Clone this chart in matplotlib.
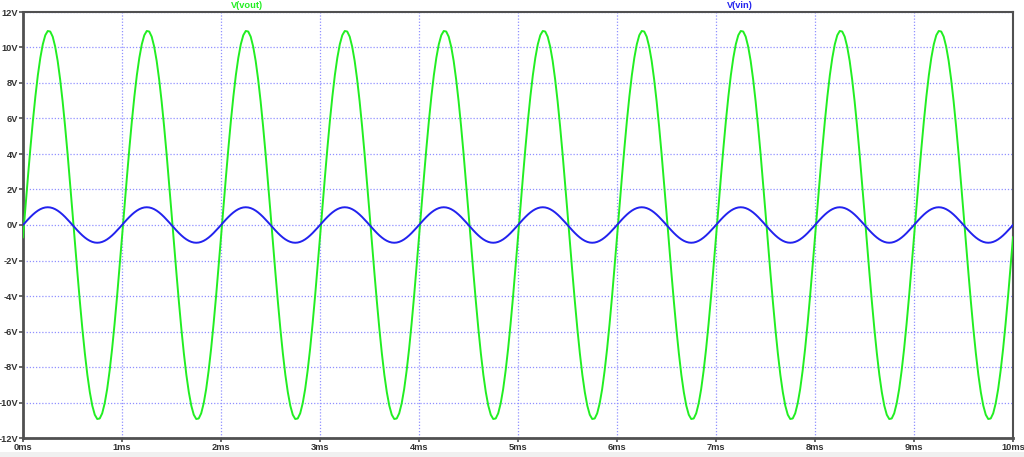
import matplotlib
import numpy as np

matplotlib.use("Agg")
import matplotlib.pyplot as plt
from matplotlib.patches import Rectangle


# one 1 kHz period, sampled every 0.025 ms (steady state, repeats every cycle)
STEP_MS = 0.025
N_CYCLES = 10

vin_cycle = [
    0.0, 0.156, 0.309, 0.454, 0.588, 0.707, 0.809, 0.891, 0.951, 0.988,
    1.0, 0.988, 0.951, 0.891, 0.809, 0.707, 0.588, 0.454, 0.309, 0.156,
    0.0, -0.156, -0.309, -0.454, -0.588, -0.707, -0.809, -0.891, -0.951, -0.988,
    -1.0, -0.988, -0.951, -0.891, -0.809, -0.707, -0.588, -0.454, -0.309, -0.156,
]
vout_cycle = [
    -0.69, 1.03, 2.72, 4.35, 5.87, 7.24, 8.44, 9.42, 10.18, 10.69,
    10.93, 10.90, 10.61, 10.05, 9.25, 8.21, 6.98, 5.57, 4.03, 2.39,
    0.69, -1.03, -2.72, -4.35, -5.87, -7.24, -8.44, -9.42, -10.18, -10.69,
    -10.93, -10.90, -10.61, -10.05, -9.25, -8.21, -6.98, -5.57, -4.03, -2.39,
]

y_ticks = [12, 10, 8, 6, 4, 2, 0, -2, -4, -6, -8, -10, -12]
y_labels = ["12V", "10V", "8V", "6V", "4V", "2V", "0V", "-2V", "-4V", "-6V", "-8V", "-10V", "-12V"]
x_ticks = [0, 1, 2, 3, 4, 5, 6, 7, 8, 9, 10]
x_labels = ["0ms", "1ms", "2ms", "3ms", "4ms", "5ms", "6ms", "7ms", "8ms", "9ms", "10ms"]

VOUT_COLOR = "#22ee22"
VIN_COLOR = "#2222ee"
GRID_COLOR = "#9090ff"
FRAME_COLOR = "#505050"
FS = 6.7


def main():
    vin = np.append(np.tile(vin_cycle, N_CYCLES), vin_cycle[0])
    vout = np.append(np.tile(vout_cycle, N_CYCLES), vout_cycle[0])
    t = np.arange(len(vin)) * STEP_MS

    plt.rcParams["font.family"] = ["Liberation Sans", "DejaVu Sans"]

    fig = plt.figure(figsize=(10.24, 4.57), dpi=100)
    fig.patches.append(Rectangle((0, 0), 1, 5 / 457, transform=fig.transFigure,
                                 facecolor="#f0f0f0", edgecolor="none", zorder=0))
    ax = fig.add_axes([23 / 1024, 19 / 457, 990 / 1024, 426 / 457])

    ax.plot(t, vout, color=VOUT_COLOR, linewidth=1.4, zorder=3)
    ax.plot(t, vin, color=VIN_COLOR, linewidth=1.4, zorder=3)

    ax.set_xlim(0, 10)
    ax.set_ylim(-12, 12)
    ax.set_xticks(x_ticks)
    ax.set_xticklabels(x_labels)
    ax.set_yticks(y_ticks)
    ax.set_yticklabels(y_labels)
    ax.tick_params(axis="both", direction="out", length=3, width=1.2, color=FRAME_COLOR,
                   labelsize=FS, labelcolor="#333333", pad=0.5)
    for lbl in ax.get_xticklabels() + ax.get_yticklabels():
        lbl.set_fontweight("bold")

    ax.grid(True, color=GRID_COLOR, linestyle=(0, (1, 1.5)), linewidth=0.9)
    for side, spine in ax.spines.items():
        spine.set_color(FRAME_COLOR)
        spine.set_linewidth(2.0 if side in ("left", "bottom") else 1.5)

    fig.text(247 / 1024, 1 - 6 / 457, "V(vout)", color=VOUT_COLOR, fontsize=FS,
             fontweight="bold", ha="center", va="center")
    fig.text(740 / 1024, 1 - 6 / 457, "V(vin)", color=VIN_COLOR, fontsize=FS,
             fontweight="bold", ha="center", va="center")

    fig.savefig("out.png", dpi=100)
    plt.close(fig)


if __name__ == "__main__":
    main()
